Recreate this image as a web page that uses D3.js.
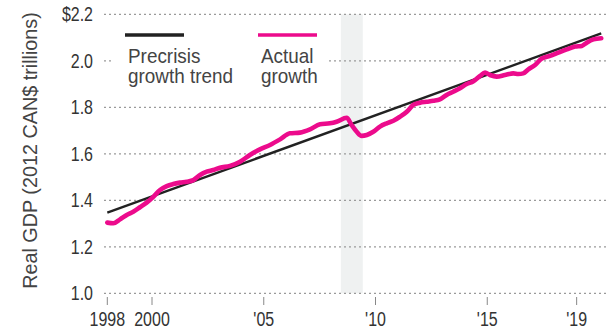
<!DOCTYPE html>
<html lang="en">
  <head>
    <meta charset="utf-8">
    <title>Real GDP vs precrisis trend</title>
    <style>
      body { margin: 0; background: #fff; }
      svg { display: block; font-family: "Liberation Sans", Arial, sans-serif; }
      .tick-label { fill: #333; font-size: 19.5px; }
      .legend-label { fill: #444; font-size: 21px; }
      .axis-title { fill: #444; font-size: 19.8px; }
    </style>
  </head>
  <body>
    <script src="https://d3js.org/d3.v7.min.js"></script>
    <script>
      // values (decimal years, trillions of 2012 CAN$)
      const actualYears = [
        1998.0, 1998.27, 1998.57, 1998.87, 1999.16, 1999.46, 1999.76, 2000.06, 2000.36, 2000.66,
        2000.95, 2001.25, 2001.55, 2001.85, 2002.15, 2002.45, 2002.74, 2003.04, 2003.49, 2003.94,
        2004.38, 2004.83, 2005.28, 2005.73, 2006.17, 2006.62, 2007.07, 2007.52, 2007.96, 2008.26,
        2008.71, 2008.93, 2009.16, 2009.38, 2009.61, 2009.9, 2010.2, 2010.5, 2010.8, 2011.1,
        2011.4, 2011.69, 2011.99, 2012.29, 2012.59, 2012.88, 2013.18, 2013.48, 2013.78, 2014.08,
        2014.38, 2014.68, 2014.9, 2015.12, 2015.42, 2015.79, 2016.17, 2016.39, 2016.61, 2016.84,
        2017.14, 2017.44, 2017.81, 2018.18, 2018.56, 2018.93, 2019.23, 2019.45, 2019.75, 2020.1
      ];
      const actualGdp = [
        1.304, 1.301, 1.318, 1.337, 1.351, 1.370, 1.390, 1.415, 1.444, 1.461,
        1.470, 1.476, 1.480, 1.487, 1.509, 1.523, 1.530, 1.540, 1.548, 1.566,
        1.595, 1.619, 1.638, 1.662, 1.688, 1.691, 1.705, 1.727, 1.731, 1.738,
        1.755, 1.724, 1.695, 1.677, 1.681, 1.695, 1.717, 1.731, 1.742, 1.760,
        1.781, 1.810, 1.820, 1.824, 1.828, 1.834, 1.853, 1.867, 1.882, 1.900,
        1.912, 1.935, 1.949, 1.939, 1.932, 1.939, 1.946, 1.943, 1.946, 1.963,
        1.982, 2.010, 2.021, 2.035, 2.049, 2.061, 2.064, 2.078, 2.092, 2.097
      ];
      const trendYears = [1998.0, 2020.1];
      const trendGdp = [1.347, 2.118];

      const recession = [2008.45, 2009.43];

      const xTicks = [1998, 2000, 2005, 2010, 2015, 2019];
      const xTickLabels = ["1998", "2000", "'05", "'10", "'15", "'19"];
      const yTicks = [1.0, 1.2, 1.4, 1.6, 1.8, 2.0, 2.2];
      const yTickLabels = ["1.0", "1.2", "1.4", "1.6", "1.8", "2.0", "$2.2"];

      const legendNames = [["Precrisis", "growth trend"], ["Actual", "growth"]];
      const legendColors = ["#222", "#ec0b8c"];

      const w = 616, h = 331;
      const narrow = 0.82;   // fake a condensed face, no narrow font installed

      const x = d3.scaleLinear().domain([1998, 2020]).range([107.3, 599]);
      const y = d3.scaleLinear().domain([1, 2.2]).range([293.3, 14.3]);

      const svg = d3.select("body").append("svg")
        .attr("width", w)
        .attr("height", h);

      // recession band
      svg.append("rect")
        .attr("x", x(recession[0]))
        .attr("width", x(recession[1]) - x(recession[0]))
        .attr("y", y(2.2))
        .attr("height", y(1) - y(2.2))
        .attr("fill", "#eff1f1");

      // gridlines
      svg.append("g")
        .selectAll("line")
        .data(yTicks)
        .join("line")
        .attr("x1", 104)
        .attr("x2", 608)
        .attr("y1", d => y(d))
        .attr("y2", d => y(d))
        .attr("stroke", "#9a9a9a")
        .attr("stroke-width", 1.3)
        .attr("stroke-dasharray", "2,3");

      // y labels
      svg.append("g")
        .selectAll("text")
        .data(yTicks)
        .join("text")
        .attr("class", "tick-label")
        .attr("transform", d => `translate(93, ${y(d)}) scale(${narrow}, 1)`)
        .attr("dy", "0.36em")
        .attr("text-anchor", "end")
        .text((d, i) => yTickLabels[i]);

      // x ticks + labels
      const xg = svg.append("g");
      xg.selectAll("line")
        .data(xTicks)
        .join("line")
        .attr("x1", d => x(d))
        .attr("x2", d => x(d))
        .attr("y1", 297)
        .attr("y2", 305)
        .attr("stroke", "#888")
        .attr("stroke-width", 1);
      xg.selectAll("text")
        .data(xTicks)
        .join("text")
        .attr("class", "tick-label")
        .attr("transform", d => `translate(${x(d)}, 325.5) scale(${narrow}, 1)`)
        .attr("text-anchor", "middle")
        .text((d, i) => xTickLabels[i]);

      // axis title
      svg.append("text")
        .attr("class", "axis-title")
        .attr("transform", "translate(37, 150.5) rotate(-90)")
        .attr("text-anchor", "middle")
        .text("Real GDP (2012 CAN$ trillions)");

      // lines
      const line = d3.line()
        .x(d => x(d[0]))
        .y(d => y(d[1]));

      svg.append("path")
        .datum(trendYears.map((yr, i) => [yr, trendGdp[i]]))
        .attr("d", line)
        .attr("fill", "none")
        .attr("stroke", legendColors[0])
        .attr("stroke-width", 2.4);

      svg.append("path")
        .datum(actualYears.map((yr, i) => [yr, actualGdp[i]]))
        .attr("d", line.curve(d3.curveMonotoneX))
        .attr("fill", "none")
        .attr("stroke", legendColors[1])
        .attr("stroke-width", 4.6)
        .attr("stroke-linejoin", "round")
        .attr("stroke-linecap", "round");

      // legend
      const legend = svg.append("g");
      legend.append("rect")
        .attr("x", 112)
        .attr("y", 24)
        .attr("width", 216)
        .attr("height", 68)
        .attr("fill", "#fff");

      const legendX = [125, 258];
      legendNames.forEach((lines, i) => {
        legend.append("line")
          .attr("x1", legendX[i])
          .attr("x2", legendX[i] + 59)
          .attr("y1", 35)
          .attr("y2", 35)
          .attr("stroke", legendColors[i])
          .attr("stroke-width", 3.5);
        const t = legend.append("text")
          .attr("class", "legend-label")
          .attr("transform", `translate(${legendX[i] + 3}, 62.5) scale(0.9, 1)`);
        lines.forEach((s, j) => {
          t.append("tspan")
            .attr("x", 0)
            .attr("dy", j === 0 ? 0 : 21)
            .text(s);
        });
      });
    </script>
  </body>
</html>
